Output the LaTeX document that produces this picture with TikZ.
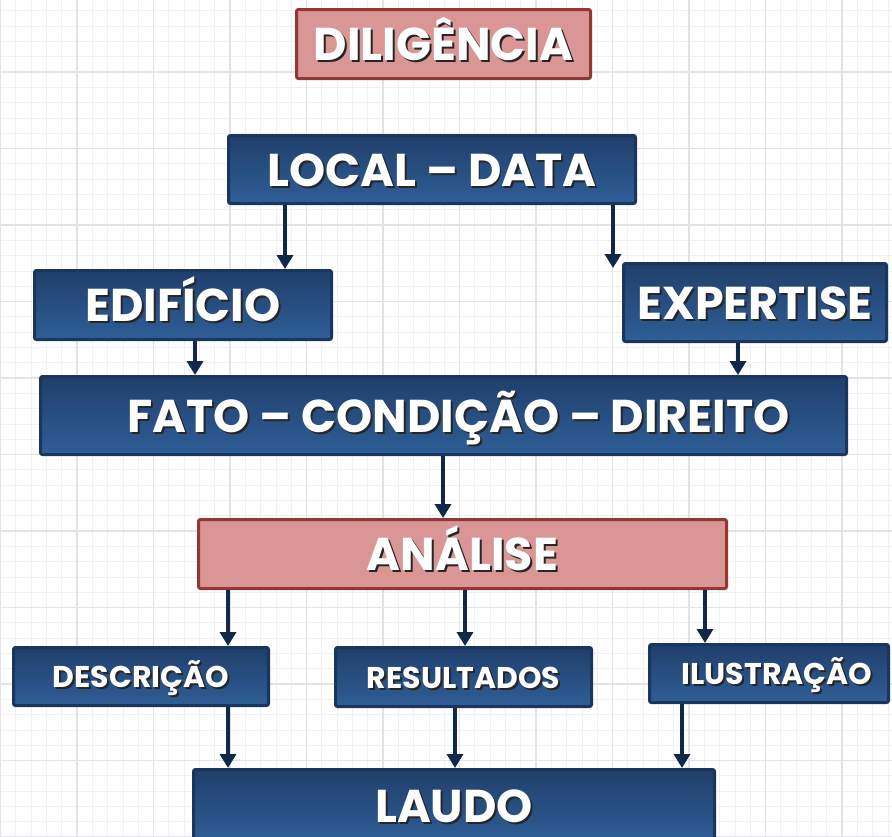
\documentclass[tikz,border=0pt]{standalone}
\usepackage{fontspec}
\setmainfont{Poppins}
\usetikzlibrary{arrows.meta}

\definecolor{navyline}{HTML}{1A365C}
\definecolor{bluetop}{HTML}{203F6B}
\definecolor{bluebot}{HTML}{2F5E97}
\definecolor{pinkfill}{HTML}{D99694}
\definecolor{pinkline}{HTML}{943634}
\definecolor{arrowc}{HTML}{10294A}
\definecolor{gridminor}{HTML}{F1F1F4}
\definecolor{gridmajor}{HTML}{E2E2E7}

\newcommand\shadowed[1]{\makebox[0pt][l]{\hspace{2pt}\raisebox{-2pt}{\color{black!85}#1}}{\color{white}#1}}

\tikzset{
  bluebox/.style={draw=navyline, line width=3pt, top color=bluetop, bottom color=bluebot, rounded corners=2pt, inner sep=0pt},
  pinkbox/.style={draw=pinkline, line width=3pt, fill=pinkfill, rounded corners=2pt, inner sep=0pt},
  big/.style={font=\fontsize{46}{48}\selectfont\bfseries, text height=33pt, text depth=0pt},
  small/.style={font=\fontsize{30}{32}\selectfont\bfseries, text height=22pt, text depth=0pt},
  arr/.style={draw=arrowc, line width=4pt, -{Triangle[length=14pt,width=16pt]}},
}

\begin{document}
\begin{tikzpicture}[x=1pt,y=-1pt]
\clip (0,0) rectangle (892,836);
\fill[white] (0,0) rectangle (892,836);

% grid paper
\foreach \i in {0,...,58} \draw[gridminor,line width=0.8pt] (0.5+\i*15.3,0) -- ++(0,836);
\foreach \j in {0,...,55} \draw[gridminor,line width=0.8pt] (0,10.8+\j*15.3) -- ++(892,0);
\foreach \i in {0,...,11} \draw[gridmajor,line width=1.2pt] (0.5+\i*76.5,0) -- ++(0,836);
\foreach \j in {0,...,11} \draw[gridmajor,line width=1.2pt] (0,72-76.5+\j*76.5) -- ++(892,0);

% boxes
\node[pinkbox,big,minimum width=294pt,minimum height=69pt] (dil) at (443.5,44) {\shadowed{DILIGÊNCIA}};
\node[bluebox,big,minimum width=407pt,minimum height=68pt] (loc) at (432,169.5) {\shadowed{LOCAL – DATA}};
\node[bluebox,big,minimum width=297pt,minimum height=69pt] (edi) at (183,305) {\shadowed{EDIFÍCIO}};
\node[bluebox,big,minimum width=263pt,minimum height=78pt] (exp) at (755,302.5) {\shadowed{EXPERTISE}};
\node[bluebox,big,minimum width=806pt,minimum height=78pt] (fato) at (443.5,415.5) {\hspace{30pt}\shadowed{FATO – CONDIÇÃO – DIREITO}};
\node[pinkbox,big,minimum width=528pt,minimum height=69pt] (ana) at (462.5,554) {\shadowed{ANÁLISE}};
\node[bluebox,small,minimum width=255pt,minimum height=58pt] (desc) at (141,676.5) {\shadowed{DESCRIÇÃO}};
\node[bluebox,small,minimum width=256pt,minimum height=59pt] (res) at (463.5,677) {\shadowed{RESULTADOS}};
\node[bluebox,small,minimum width=239pt,minimum height=58pt] (ilu) at (769,673.5) {\hspace{16pt}\shadowed{ILUSTRAÇÃO}};
\node[bluebox,big,minimum width=521pt,minimum height=73pt] (laudo) at (454,806) {\shadowed{LAUDO}};

% arrows
\coordinate (xedi) at (285,0);
\coordinate (expin) at (613,268);
\coordinate (xfl) at (195,0);
\coordinate (xfr) at (738,0);
\coordinate (xana) at (443,0);
\coordinate (xa1) at (228,0);
\coordinate (xa2) at (465,0);
\coordinate (xa3) at (705,0);
\coordinate (xl2) at (455,0);
\coordinate (xl3) at (682,0);
\draw[arr] (loc.south -| xedi) -- (edi.north -| xedi);
\draw[arr] (loc.south -| expin) -- (expin);
\draw[arr] (edi.south -| xfl) -- (fato.north -| xfl);
\draw[arr] (exp.south -| xfr) -- (fato.north -| xfr);
\draw[arr] (fato.south -| xana) -- (ana.north -| xana);
\draw[arr] (ana.south -| xa1) -- (desc.north -| xa1);
\draw[arr] (ana.south -| xa2) -- (res.north -| xa2);
\draw[arr] (ana.south -| xa3) -- (ilu.north -| xa3);
\draw[arr] (desc.south -| xa1) -- (laudo.north -| xa1);
\draw[arr] (res.south -| xl2) -- (laudo.north -| xl2);
\draw[arr] (ilu.south -| xl3) -- (laudo.north -| xl3);
\end{tikzpicture}
\end{document}
